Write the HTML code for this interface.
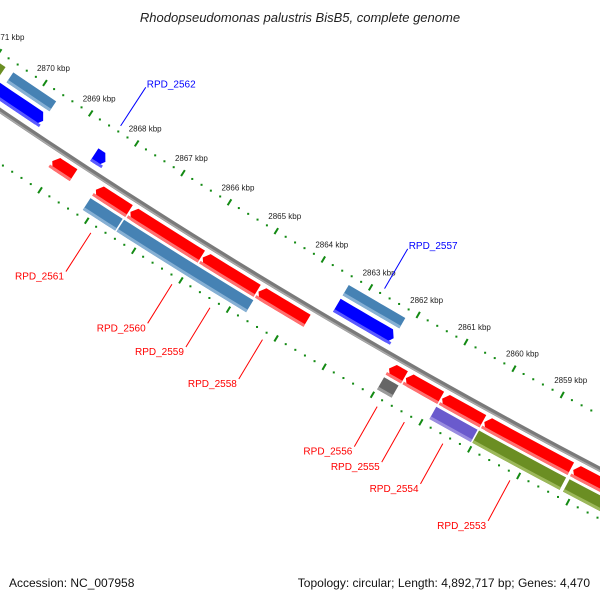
<!DOCTYPE html>
<html><head><meta charset="utf-8"><style>
html,body{margin:0;padding:0;background:#fff;}
svg{display:block;font-family:"Liberation Sans","DejaVu Sans",sans-serif;}
</style></head><body>
<svg id="chart" width="600" height="600" viewBox="0 0 600 600">
<text x="300" y="22" text-anchor="middle" font-size="13" font-style="italic" fill="#222">Rhodopseudomonas palustris BisB5, complete genome</text>
<g id="scales"></g>
<g id="features"></g>
<g id="labels"></g>
<text x="9" y="587" font-size="12" fill="#111">Accession: NC_007958</text>
<text x="590" y="587" text-anchor="end" font-size="12" fill="#111">Topology: circular; Length: 4,892,717 bp; Genes: 4,470</text>
</svg>
<script>
// kbp positions of feature starts/ends
const featStart=[2872.5,2870.6,2863.38, 2872.5,2868.55,2863.38, 2869.12,2868.18,2867.44,2865.90,2864.72,2861.99,2861.64,2860.89,2860.02,2858.20, 2868.18,2867.46,2861.99,2860.91,2860.03,2858.18];
const featEnd=[2870.74,2869.63,2862.16, 2869.63,2868.28,2862.16, 2868.63,2867.44,2865.90,2864.72,2863.67,2861.64,2860.89,2860.02,2858.22,2855.5, 2867.46,2864.69,2861.66,2860.03,2858.22,2855.5];
const featBand=["T","T","T","B","B","B","R","R","R","R","R","R","R","R","R","R","L","L","L","L","L","L"];
const featColor=["olive","steel","steel","blue","blue","blue","red","red","red","red","red","red","red","red","red","red","steel","steel","gray","purple","olive","olive"];
const featDir=[0,0,0,1,1,1,-1,-1,-1,-1,-1,-1,-1,-1,-1,-1,0,0,0,0,0,0];
const tickLabels=[2872,2871,2870,2869,2868,2867,2866,2865,2864,2863,2862,2861,2860,2859,2858,2857];
const labelNames=["RPD_2562","RPD_2557","RPD_2561","RPD_2560","RPD_2559","RPD_2558","RPD_2556","RPD_2555","RPD_2554","RPD_2553"];
const labelKbp=[2868.42,2862.77,2867.82,2866.1,2865.3,2864.2,2861.82,2861.26,2860.47,2859.1];

const CX=3476, CY=-5021;
function pt(k,r){const a=(123.91+(k-2870)*0.5118)*Math.PI/180;return [CX+r*Math.cos(a),CY+r*Math.sin(a)];}
const bands={T:[6159,6171],B:[6175,6190],R:[6204,6218],L:[6221,6235]};
const colors={red:["#ff0000","#ff7070","#c80000"],steel:["#4682b4","#86b0d4","#3a6d96"],blue:["#0000ff","#5a5aff","#0000c0"],olive:["#6b8e23","#9cb85a","#56731c"],purple:["#6a5acd","#9a8de0","#5547a8"],gray:["#666666","#9a9a9a","#505050"]};
const NS="http://www.w3.org/2000/svg";
const P=p=>p[0].toFixed(2)+","+p[1].toFixed(2);
function shape(k1,k2,r0,r1,dir){
  const tip=0.09, rm=(r0+r1)/2, pts=[], n=8;
  let a=k1+0.015, b=k2+0.015;
  let s=a, e=b;
  if(dir===-1) s=a; if(dir===1) e=b;
  const aa=dir===-1?a-tip:a, bb=dir===1?b+tip:b;
  if(dir===-1) pts.push(pt(a,rm));
  for(let i=0;i<=n;i++) pts.push(pt(aa+(bb-aa)*i/n,r0));
  if(dir===1) pts.push(pt(b,rm));
  for(let i=n;i>=0;i--) pts.push(pt(aa+(bb-aa)*i/n,r1));
  return pts.map(P).join(" ");
}
const fg=document.getElementById("features");
// backbone
(function(){
  let d="";
  for(let i=0;i<=40;i++){const k=2873-i*0.45;const p=pt(k,6198);d+=(i?"L":"M")+P(p);}
  const bb=document.createElementNS(NS,"path");
  bb.setAttribute("d",d);bb.setAttribute("fill","none");bb.setAttribute("stroke","#7a7a7a");bb.setAttribute("stroke-width","5");
  
  
  fg.appendChild(bb);
  let d2="";
  for(let i=0;i<=40;i++){const k=2873-i*0.45;const p=pt(k,6199.5);d2+=(i?"L":"M")+P(p);}
  const hl=document.createElementNS(NS,"path");
  hl.setAttribute("d",d2);hl.setAttribute("fill","none");hl.setAttribute("stroke","#a8a8a8");hl.setAttribute("stroke-width","1.5");
  
  
  fg.appendChild(hl);
})();
for(let i=0;i<featStart.length;i++){
  const [r0,r1]=bands[featBand[i]], c=colors[featColor[i]];
  const k1=featStart[i]-0.015, k2=featEnd[i]+0.015;
  const g=document.createElementNS(NS,"polygon");
  g.setAttribute("points",shape(k1-0.015,k2-0.015,r0,r1,featDir[i]));
  g.setAttribute("fill",c[0]);
  
  
  fg.appendChild(g);
  const h=document.createElementNS(NS,"polygon");
  h.setAttribute("points",shape(k1-0.015,k2-0.015,r1-3,r1,featDir[i]===0?0:0));
  h.setAttribute("fill",c[1]);
  
  
  fg.appendChild(h);
}
// scales
const sg=document.getElementById("scales");
[6150,6242].forEach(function(r,si){
  for(let j=0;j<=85;j++){
    const k=2873-j*0.2;
    const major=Math.abs(k-Math.round(k))<0.01;
    if(major){
      const a=pt(k,r-3.5), b=pt(k,r+3.5);
      const l=document.createElementNS(NS,"line");
      l.setAttribute("x1",a[0]);l.setAttribute("y1",a[1]);l.setAttribute("x2",b[0]);l.setAttribute("y2",b[1]);
      l.setAttribute("stroke","#138a13");l.setAttribute("stroke-width","2");
      
      
      sg.appendChild(l);
    } else {
      const p=pt(k,r);
      const c=document.createElementNS(NS,"rect");
      c.setAttribute("x",p[0]-1);c.setAttribute("y",p[1]-1);c.setAttribute("width","2");c.setAttribute("height","2");
      c.setAttribute("fill","#138a13");
      
      
      sg.appendChild(c);
    }
  }
});
tickLabels.forEach(function(k){
  const p=pt(k,6150);
  const t=document.createElementNS(NS,"text");
  t.setAttribute("x",p[0]-8);t.setAttribute("y",p[1]-12);
  t.setAttribute("font-size","8");t.setAttribute("fill","#222");
  t.textContent=k+" kbp";
  
  
  sg.appendChild(t);
});
// gene labels
const lg=document.getElementById("labels");
labelNames.forEach(function(name,i){
  const upper=i<2;
  const r0=upper?6144:6250, r1=upper?6098:6296;
  const a=pt(labelKbp[i],r0), b=pt(labelKbp[i],r1);
  const col=upper?"#0000ff":"#ff0000";
  const l=document.createElementNS(NS,"line");
  l.setAttribute("x1",a[0]);l.setAttribute("y1",a[1]);l.setAttribute("x2",b[0]);l.setAttribute("y2",b[1]);
  l.setAttribute("stroke",col);l.setAttribute("stroke-width","1");
  
  
  lg.appendChild(l);
  const t=document.createElementNS(NS,"text");
  t.setAttribute("font-size","10");t.setAttribute("fill",col);
  if(upper){t.setAttribute("x",b[0]+1);t.setAttribute("y",b[1]);}
  else{t.setAttribute("x",b[0]-2);t.setAttribute("y",b[1]+8);t.setAttribute("text-anchor","end");}
  t.textContent=name;
  
  
  lg.appendChild(t);
});
</script>
</body></html>
